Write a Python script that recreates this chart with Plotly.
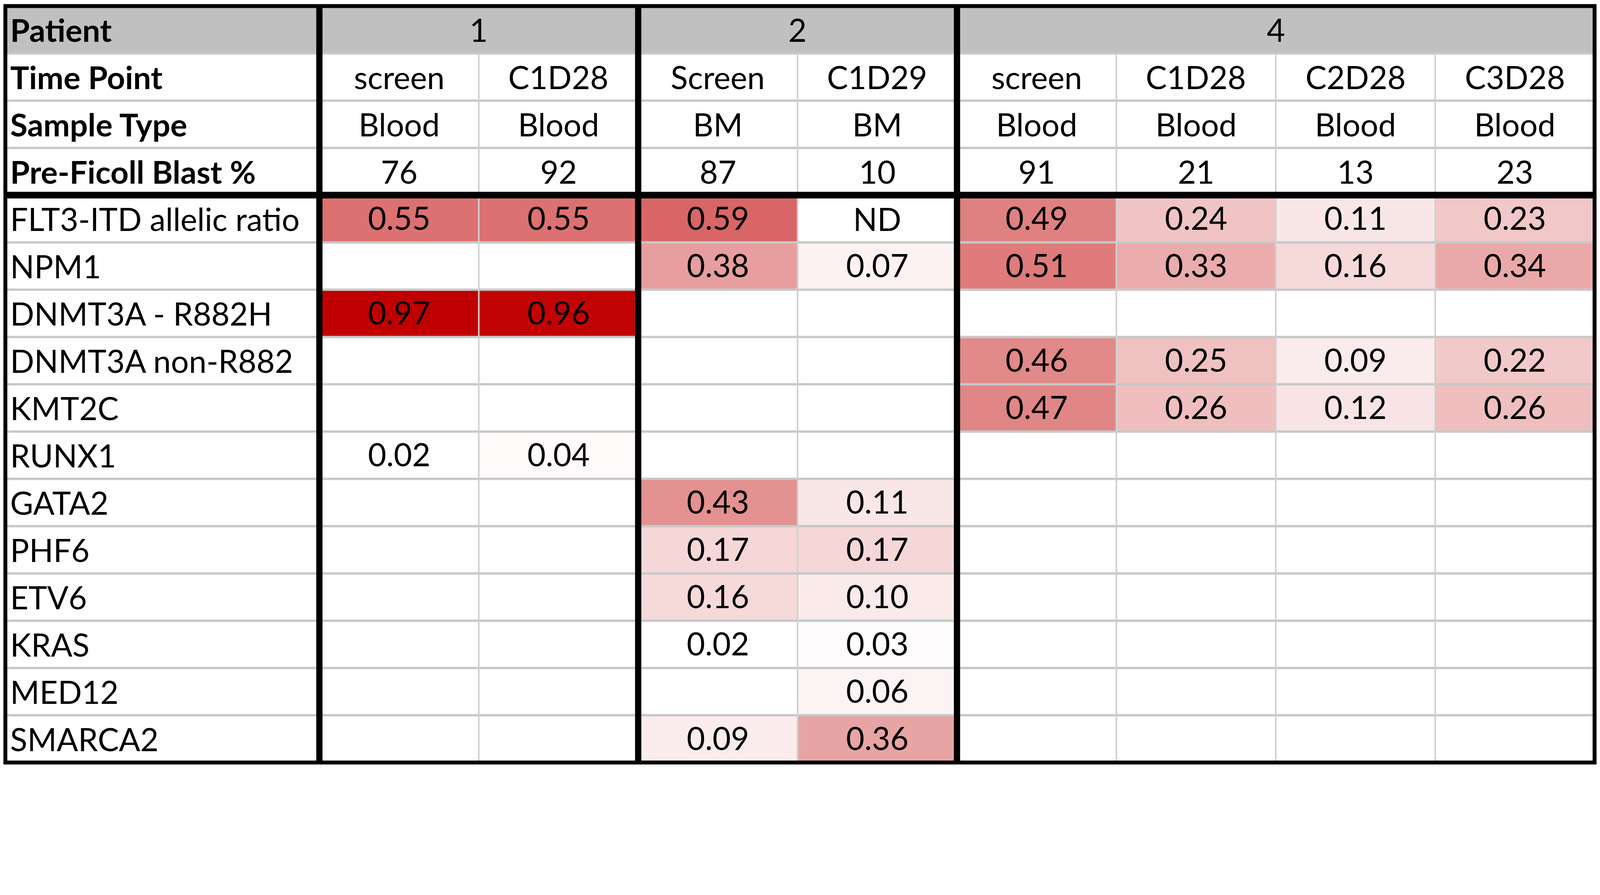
import plotly.graph_objects as go

# ---- table content ----
patients = ["1", "2", "4"]
patient_ncols = [2, 2, 4]
time_points = ["screen", "C1D28", "Screen", "C1D29", "screen", "C1D28", "C2D28", "C3D28"]
sample_types = ["Blood", "Blood", "BM", "BM", "Blood", "Blood", "Blood", "Blood"]
blast_pct = [76, 92, 87, 10, 91, 21, 13, 23]
header_labels = ["Patient", "Time Point", "Sample Type", "Pre-Ficoll Blast %"]

genes = ["FLT3-ITD allelic ratio", "NPM1", "DNMT3A - R882H", "DNMT3A non-R882", "KMT2C",
         "RUNX1", "GATA2", "PHF6", "ETV6", "KRAS", "MED12", "SMARCA2"]

flt3_itd = [0.55, 0.55, 0.59, "ND", 0.49, 0.24, 0.11, 0.23]
npm1 = [None, None, 0.38, 0.07, 0.51, 0.33, 0.16, 0.34]
dnmt3a_r882h = [0.97, 0.96, None, None, None, None, None, None]
dnmt3a_non = [None, None, None, None, 0.46, 0.25, 0.09, 0.22]
kmt2c = [None, None, None, None, 0.47, 0.26, 0.12, 0.26]
runx1 = [0.02, 0.04, None, None, None, None, None, None]
gata2 = [None, None, 0.43, 0.11, None, None, None, None]
phf6 = [None, None, 0.17, 0.17, None, None, None, None]
etv6 = [None, None, 0.16, 0.10, None, None, None, None]
kras = [None, None, 0.02, 0.03, None, None, None, None]
med12 = [None, None, None, 0.06, None, None, None, None]
smarca2 = [None, None, 0.09, 0.36, None, None, None, None]

rows = [flt3_itd, npm1, dnmt3a_r882h, dnmt3a_non, kmt2c, runx1,
        gata2, phf6, etv6, kras, med12, smarca2]

# ---- geometry ----
# the page is shown at ~1.17 device px per css px, so work in css px
S = 0.858
W, H = 4082, 1957
COL_PX = 475.6 * S      # one sample column
ROW_PX = 141.0 * S      # one row
LABEL_W = 1.97          # label column, in sample-column units
PAD_L, PAD_T = 16 * S - 8, 18 * S - 8   # body margin of 8px comes first

ncols = len(time_points)
nhead = len(header_labels)
x_left = -0.5 - LABEL_W
x_right = ncols - 0.5
y_top = -nhead - 0.5
y_bot = len(genes) - 0.5

FONT = "Lato"
FS = 81

z = []
txt = []
nd_cells = []
for r, vals in enumerate(rows):
    zr, tr = [], []
    for c, v in enumerate(vals):
        if v == "ND":
            nd_cells.append((r, c))
            zr.append(None)
            tr.append("")
        elif v is None:
            zr.append(None)
            tr.append("")
        else:
            zr.append(v)
            tr.append(f"{v:.2f}")
    z.append(zr)
    txt.append(tr)

fig = go.Figure()
fig.add_trace(go.Heatmap(
    z=z, x=list(range(ncols)), y=list(range(len(genes))),
    text=txt, texttemplate="%{text}",
    textfont=dict(family=FONT, size=FS, color="black"),
    colorscale=[[0, "#FFFFFF"], [1, "#C00000"]],
    zmin=0.02, zmax=0.97, showscale=False, hoverinfo="skip",
))

shapes = []
# grey patient row
shapes.append(dict(type="rect", xref="x", yref="y", x0=x_left, x1=x_right,
                   y0=y_top, y1=y_top + 1, fillcolor="#C0C0C0", line_width=0, layer="below"))

# light grid
for k in range(-nhead + 1, len(genes)):
    if k == 0:
        continue
    shapes.append(dict(type="line", xref="x", yref="y", x0=x_left, x1=x_right,
                       y0=k - 0.5, y1=k - 0.5, line=dict(color="#C8C8C8", width=6), layer="above"))
group_edges = []
acc = 0
for n in patient_ncols:
    group_edges.append(acc - 0.5)
    acc += n
for c in range(1, ncols):
    if c - 0.5 in group_edges:
        continue
    shapes.append(dict(type="line", xref="x", yref="y", x0=c - 0.5, x1=c - 0.5,
                       y0=y_top + 1, y1=y_bot, line=dict(color="#D0D0D0", width=4), layer="above"))

# heavy separators
for xe in group_edges:
    shapes.append(dict(type="line", xref="x", yref="y", x0=xe, x1=xe,
                       y0=y_top, y1=y_bot, line=dict(color="black", width=16), layer="above"))
shapes.append(dict(type="line", xref="x", yref="y", x0=x_left, x1=x_right,
                   y0=-0.5, y1=-0.5, line=dict(color="black", width=17), layer="above"))
shapes.append(dict(type="rect", xref="x", yref="y", x0=x_left, x1=x_right,
                   y0=y_top, y1=y_bot, line=dict(color="black", width=10), layer="above"))

ann = []
# header labels (bold, left)
for i, lab in enumerate(header_labels):
    ann.append(dict(x=x_left, y=-nhead + i, text=f"<b>{lab}</b>", xanchor="left", xshift=10,
                    showarrow=False, font=dict(family=FONT, size=FS, color="black")))
# gene labels
for i, g in enumerate(genes):
    ann.append(dict(x=x_left, y=i, text=g, xanchor="left", xshift=10,
                    showarrow=False, font=dict(family=FONT, size=FS, color="black")))
# patient numbers
acc = 0
for p, n in zip(patients, patient_ncols):
    ann.append(dict(x=acc + (n - 1) / 2, y=-nhead, text=p, showarrow=False,
                    font=dict(family=FONT, size=FS, color="black")))
    acc += n
for c in range(ncols):
    for j, vals in enumerate([time_points, sample_types, blast_pct]):
        ann.append(dict(x=c, y=-nhead + 1 + j, text=str(vals[c]), showarrow=False,
                        font=dict(family=FONT, size=FS, color="black")))
for r, c in nd_cells:
    ann.append(dict(x=c, y=r, text="ND", showarrow=False,
                    font=dict(family=FONT, size=FS, color="black")))

x0 = x_left - PAD_L / COL_PX
y0 = y_top - PAD_T / ROW_PX
fig.update_layout(
    width=W, height=H, autosize=False,
    margin=dict(l=0, r=0, t=0, b=0, pad=0),
    paper_bgcolor="white", plot_bgcolor="white",
    shapes=shapes, annotations=ann,
    xaxis=dict(visible=False, range=[x0, x0 + W / COL_PX], fixedrange=True),
    yaxis=dict(visible=False, range=[y0 + H / ROW_PX, y0], fixedrange=True),
    showlegend=False,
)

fig.write_html("out.html")
